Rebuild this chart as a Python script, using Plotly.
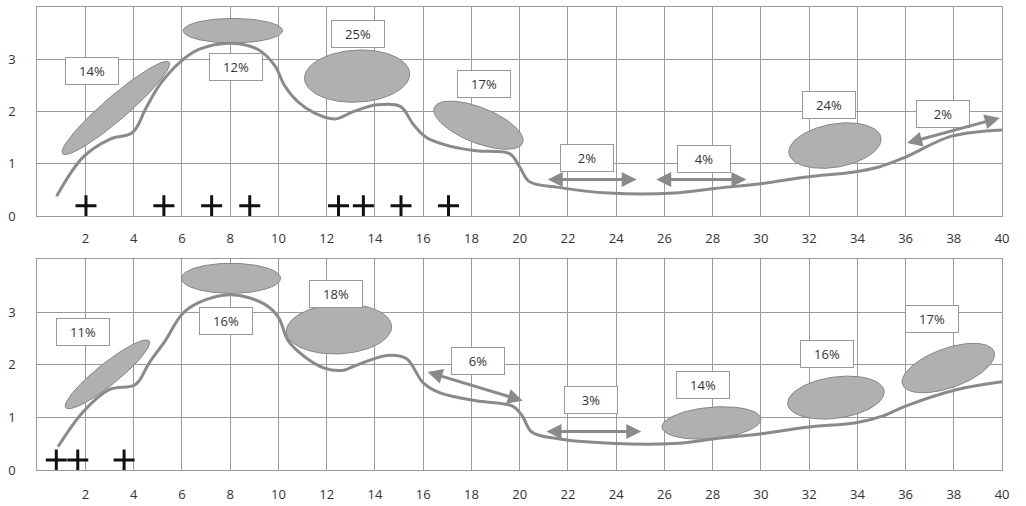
import numpy as np
import plotly.graph_objects as go

W, H = 1026, 506

# ---------------- data ----------------
x_ticks = list(range(2, 41, 2))
y_ticks = [0, 1, 2, 3]

curve_top_x = [0.8, 1.9, 3.0, 3.95, 4.5, 5.05, 5.9, 6.7, 8.05, 9.15, 9.85, 10.25, 10.8, 11.5, 12.35,
               13.1, 14.1, 15.05, 15.6, 16.15, 17.1, 18.2, 19.6, 20.0, 20.4, 21.6, 23.7, 26.4, 28.1,
               30.0, 31.9, 33.8, 34.9, 36.0, 37.9, 40.0]
curve_top_y = [0.38, 1.13, 1.47, 1.6, 2.06, 2.5, 2.94, 3.19, 3.31, 3.19, 2.88, 2.5, 2.19, 1.97, 1.86,
               2.0, 2.13, 2.1, 1.75, 1.5, 1.34, 1.25, 1.19, 0.94, 0.66, 0.55, 0.44, 0.44, 0.53,
               0.62, 0.75, 0.84, 0.94, 1.13, 1.53, 1.65]

curve_bot_x = [0.86, 1.88, 2.98, 4.08, 4.63, 5.31, 6.0, 6.69, 8.05, 9.42, 10.0, 10.4, 11.1, 11.9, 12.7,
               13.1, 14.5, 15.3, 16.0, 16.7, 18.2, 19.7, 20.1, 20.5, 21.6, 23.96, 26.4, 28.1, 30.1,
               31.9, 34.0, 35.1, 36.0, 38.1, 40.0]
curve_bot_y = [0.45, 1.1, 1.53, 1.63, 2.03, 2.46, 2.96, 3.18, 3.33, 3.15, 2.9, 2.46, 2.15, 1.94, 1.9,
               1.97, 2.18, 2.12, 1.66, 1.47, 1.32, 1.22, 1.04, 0.73, 0.6, 0.51, 0.51, 0.6, 0.7,
               0.82, 0.91, 1.04, 1.22, 1.53, 1.68]

cross_top_x = [2.02, 5.25, 7.23, 8.81, 12.49, 13.52, 15.08, 17.05]
cross_top_y = [0.2] * len(cross_top_x)
cross_bot_x = [0.79, 1.68, 3.6]
cross_bot_y = [0.2] * len(cross_bot_x)

label_top_text = ["14%", "12%", "25%", "17%", "2%", "4%", "24%", "2%"]
label_top_x = [2.26, 8.24, 13.31, 18.54, 22.78, 27.64, 32.81, 37.53]
label_top_y = [2.77, 2.86, 3.48, 2.52, 1.11, 1.09, 2.13, 1.95]

label_bot_text = ["11%", "16%", "18%", "6%", "3%", "14%", "16%", "17%"]
label_bot_x = [1.9, 7.83, 12.4, 18.26, 22.95, 27.6, 32.73, 37.11]
label_bot_y = [2.62, 2.84, 3.34, 2.08, 1.33, 1.61, 2.21, 2.87]

# ellipses: centre x, centre y (data), semi-axes in px, tilt in degrees
ell_top_cx = [3.26, 8.11, 13.26, 18.29, 33.07]
ell_top_cy = [2.07, 3.55, 2.68, 1.74, 1.35]
ell_top_a = [71, 50, 53, 48, 47]
ell_top_b = [12, 12.5, 26.5, 18, 22]
ell_top_ang = [41, 0, 3, -22, 10]

ell_bot_cx = [2.91, 8.03, 12.51, 27.95, 33.11, 37.77]
ell_bot_cy = [1.82, 3.64, 2.68, 0.90, 1.38, 1.94]
ell_bot_a = [54, 50, 53, 50, 49, 49]
ell_bot_b = [11, 15.3, 25.3, 16, 21, 20]
ell_bot_ang = [39, 0, 3, 5, 8, 20]

# double arrows: x0, y0, x1, y1
arrow_top = [(21.1, 0.70, 24.85, 0.70), (25.6, 0.70, 29.4, 0.70), (36.0, 1.39, 39.9, 1.88)]
arrow_bot = [(16.12, 1.875, 20.13, 1.32), (21.05, 0.74, 25.04, 0.74)]

# ---------------- layout geometry ----------------
XDOM = [37.5 / W, 1009 / W]
YDOM_TOP = [1 - 220 / H, 1 - 7.3 / H]
YDOM_BOT = [1 - 479 / H, 1 - 264 / H]
XR = [0, 40]
YR = [0, 4]
px_x = (XDOM[1] - XDOM[0]) * W / (XR[1] - XR[0])
px_y_top = (YDOM_TOP[1] - YDOM_TOP[0]) * H / (YR[1] - YR[0])
px_y_bot = (YDOM_BOT[1] - YDOM_BOT[0]) * H / (YR[1] - YR[0])

LINE_C = "#8a8a8a"
GRID_C = "#9a9a9a"
ELL_FILL = "#b0b0b0"
ELL_LINE = "#858585"
FONT = "Open Sans"

fig = go.Figure()


def add_ellipses(cxs, cys, aa, bb, angs, xa, ya, pyy):
    t = np.linspace(0, 2 * np.pi, 120)
    for cx, cy, a, b, ang in zip(cxs, cys, aa, bb, angs):
        th = np.deg2rad(ang)
        dx = a * np.cos(th) * np.cos(t) - b * np.sin(th) * np.sin(t)
        dy = a * np.sin(th) * np.cos(t) + b * np.cos(th) * np.sin(t)
        fig.add_trace(go.Scatter(x=cx + dx / px_x, y=cy + dy / pyy, mode="lines",
                                 fill="toself", fillcolor=ELL_FILL,
                                 line=dict(color=ELL_LINE, width=1),
                                 xaxis=xa, yaxis=ya, showlegend=False, hoverinfo="skip"))


add_ellipses(ell_top_cx, ell_top_cy, ell_top_a, ell_top_b, ell_top_ang, "x", "y", px_y_top)
add_ellipses(ell_bot_cx, ell_bot_cy, ell_bot_a, ell_bot_b, ell_bot_ang, "x2", "y2", px_y_bot)

for cx, cy, xa, ya in [(curve_top_x, curve_top_y, "x", "y"), (curve_bot_x, curve_bot_y, "x2", "y2")]:
    fig.add_trace(go.Scatter(x=cx, y=cy, mode="lines", line=dict(color=LINE_C, width=3, shape="spline", smoothing=1),
                             xaxis=xa, yaxis=ya, showlegend=False, hoverinfo="skip"))

for cx, cy, xa, ya in [(cross_top_x, cross_top_y, "x", "y"), (cross_bot_x, cross_bot_y, "x2", "y2")]:
    fig.add_trace(go.Scatter(x=cx, y=cy, mode="markers",
                             marker=dict(symbol="cross-thin", size=15, line=dict(color="#111111", width=3)),
                             xaxis=xa, yaxis=ya, showlegend=False, hoverinfo="skip"))

annotations = []
for texts, xs, ys, xr, yr in [(label_top_text, label_top_x, label_top_y, "x", "y"),
                              (label_bot_text, label_bot_x, label_bot_y, "x2", "y2")]:
    for t_, x_, y_ in zip(texts, xs, ys):
        annotations.append(dict(x=x_, y=y_, xref=xr, yref=yr, text=t_, showarrow=False,
                                font=dict(family=FONT, size=13, color="#333333"),
                                bgcolor="white", bordercolor="#999999", borderwidth=1,
                                width=50, height=24, borderpad=1))

for arrows, xr, yr in [(arrow_top, "x", "y"), (arrow_bot, "x2", "y2")]:
    for x0, y0, x1, y1 in arrows:
        annotations.append(dict(x=x1, y=y1, ax=x0, ay=y0, xref=xr, yref=yr, axref=xr, ayref=yr,
                                text="", showarrow=True, arrowhead=2, arrowside="end+start",
                                arrowsize=1.0, arrowwidth=3, arrowcolor=LINE_C, standoff=0, startstandoff=0))

axis_common = dict(showgrid=True, gridcolor=GRID_C, gridwidth=1, showline=True, linecolor=GRID_C,
                   linewidth=1, mirror=True, zeroline=False, ticks="",
                   tickfont=dict(family=FONT, size=13, color="#333333"))

fig.update_layout(
    width=W, height=H, margin=dict(l=0, r=0, t=0, b=0),
    paper_bgcolor="white", plot_bgcolor="white", showlegend=False,
    xaxis=dict(domain=XDOM, range=XR, anchor="y", tickvals=x_ticks, ticklabelstandoff=10, **axis_common),
    yaxis=dict(domain=YDOM_TOP, range=YR, anchor="x", tickvals=y_ticks, ticklabelstandoff=18, **axis_common),
    xaxis2=dict(domain=XDOM, range=XR, anchor="y2", tickvals=x_ticks, ticklabelstandoff=12, **axis_common),
    yaxis2=dict(domain=YDOM_BOT, range=YR, anchor="x2", tickvals=y_ticks, ticklabelstandoff=18, **axis_common),
    annotations=annotations,
)

fig.write_html("out.html", config={"displayModeBar": False},
               post_script="document.body.style.margin='0px';document.body.style.overflow='hidden';")
